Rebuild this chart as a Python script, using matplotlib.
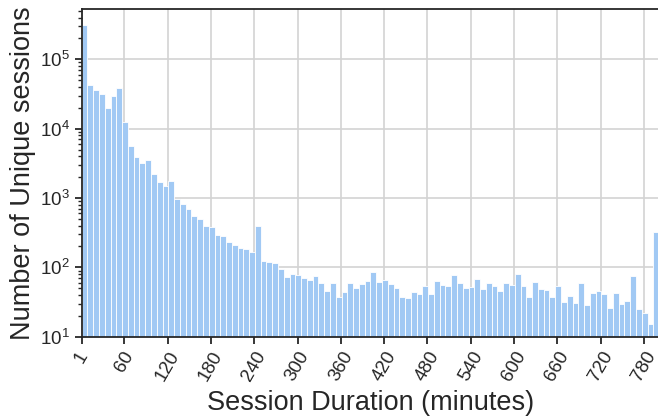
import numpy as np
import matplotlib
matplotlib.use("Agg")
import matplotlib.pyplot as plt

plt.rcParams['font.family'] = ['Liberation Sans', 'DejaVu Sans']
plt.rcParams['mathtext.fontset'] = 'custom'
plt.rcParams['mathtext.rm'] = 'Liberation Sans'
plt.rcParams['mathtext.it'] = 'Liberation Sans:italic'
plt.rcParams['mathtext.bf'] = 'Liberation Sans:bold'

# histogram of session durations: 100 bins of 8 minutes starting at 1 minute
bin_start = 1
bin_width = 8
session_counts = [
    310000, 42600, 35700, 31500, 19800, 29500, 38500, 12400, 5550, 3890,
    3190, 3480, 2230, 1690, 1480, 1770, 964, 817, 684, 553,
    496, 397, 380, 289, 285, 231, 209, 187, 183, 167,
    393, 123, 119, 114, 94, 73, 80, 78, 71, 65,
    74, 59, 46, 59, 37, 44, 60, 51, 58, 63,
    86, 61, 65, 58, 50, 37, 36, 44, 41, 54,
    41, 63, 55, 54, 78, 59, 51, 52, 68, 48,
    60, 54, 46, 59, 55, 81, 53, 37, 62, 48,
    47, 37, 54, 32, 38, 31, 60, 29, 43, 46,
    41, 26, 42, 30, 33, 76, 25, 22, 15, 322,
]
xtick_values = [1, 60, 120, 180, 240, 300, 360, 420, 480, 540, 600, 660, 720, 780]
xtick_labels = ['1', '60', '120', '180', '240', '300', '360', '420', '480',
                '540', '600', '660', '720', '780']

edges = bin_start + bin_width * np.arange(len(session_counts) + 1)

fig = plt.figure(figsize=(6.58, 4.2), dpi=100)
ax = fig.add_axes([0.1242, 0.1983, 0.8775, 0.7795])

ax.bar(edges[:-1], session_counts, width=bin_width, align='edge',
       color='#a1c9f4', edgecolor='white', linewidth=0.6, zorder=2)

ax.set_yscale('log')
ax.set_xlim(edges[0], edges[-1])
ax.set_ylim(10, 10 ** 5.72)

ax.set_xticks(xtick_values)
ax.set_xticklabels(xtick_labels, rotation=60)
ax.grid(True, which='major', color='#d3d3d3', linewidth=1.2, zorder=0)
ax.set_axisbelow(True)

for side in ['left', 'bottom', 'top', 'right']:
    ax.spines[side].set_color('#262626')
    ax.spines[side].set_linewidth(1.3)

ax.tick_params(axis='both', which='major', direction='out', length=5,
               width=1.3, color='#262626', labelsize=13.5, labelcolor='#262626')
ax.tick_params(axis='y', which='minor', direction='out', length=3,
               width=1.0, color='#262626')

ax.set_xlabel('Session Duration (minutes)', fontsize=19.5, color='#262626', labelpad=4)
ax.set_ylabel('Number of Unique sessions', fontsize=19.5, color='#262626', labelpad=3)

fig.savefig('out.png', dpi=100)
